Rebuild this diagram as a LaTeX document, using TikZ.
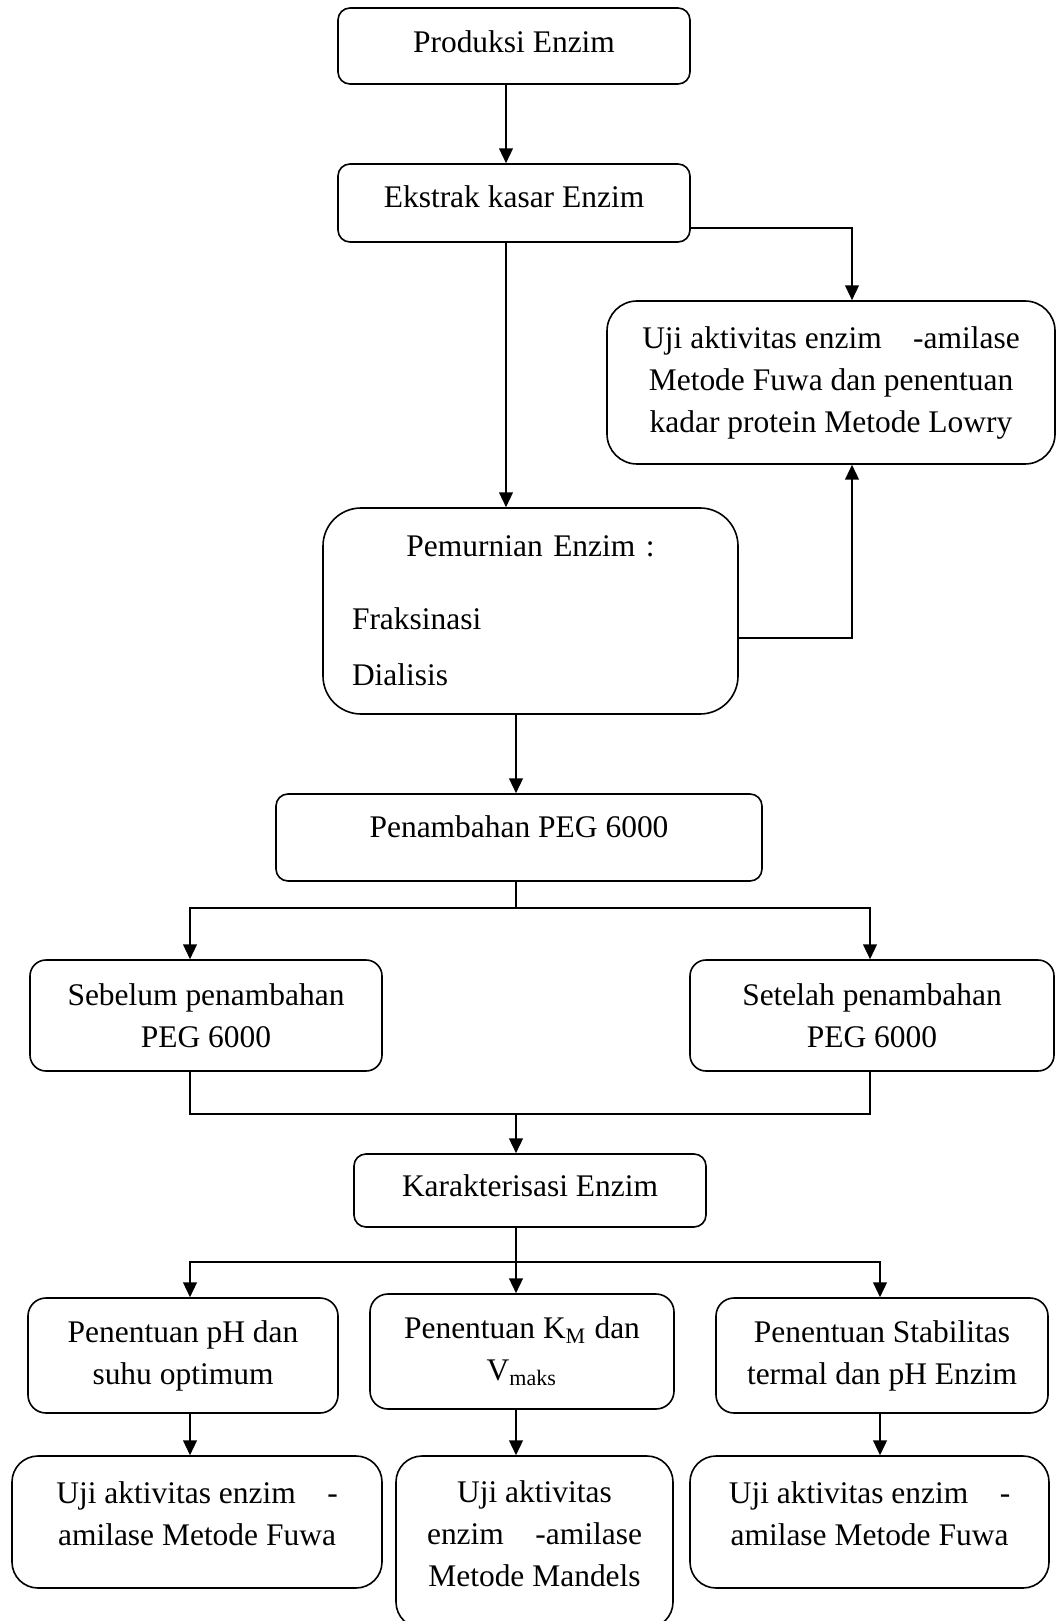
\documentclass[tikz,border=0pt]{standalone}
\usepackage{fontspec}
\setmainfont{Liberation Serif}
\usetikzlibrary{arrows.meta}
\usetikzlibrary{positioning}
\usetikzlibrary{calc}

\begin{document}
\begin{tikzpicture}[x=0.375pt, y=-0.375pt]

\def\Px{0.375pt}
\def\LineW{0.6pt}

% Styles
\tikzstyle{box} =
	[draw, line width=\LineW, inner sep=0pt, align=center,
	 font=\fontsize{11.8}{15.75}\selectfont]

\tikzstyle{stage} =
	[box, rounded corners=12*\Px]

\tikzstyle{test} =
	[box, rounded corners=26*\Px]

\tikzstyle{flow} =
	[line width=\LineW, -{Triangle[width=5.2pt,length=5.6pt]}]

\tikzstyle{joint} =
	[line width=\LineW]

\useasboundingbox (0,0) rectangle (1056,1621);
\clip (0,0) rectangle (1056,1621);

% Modules

\node (Produksi) at (514,46)
	[stage, minimum width=352*\Px, minimum height=76*\Px, text depth=3pt] {Produksi Enzim};
\node (Ekstrak) at (514,203)
	[stage, minimum width=352*\Px, minimum height=78*\Px, text depth=4.5pt] {Ekstrak kasar Enzim};

\node (UjiAtas) at (831,382.5)
	[test, rounded corners=30*\Px, minimum width=448*\Px, minimum height=163*\Px]
	{Uji aktivitas enzim\quad-amilase\\Metode Fuwa dan penentuan\\kadar protein Metode Lowry};

\node (Pemurnian) at (530.5,611)
	[box, rounded corners=38*\Px, minimum width=415*\Px, minimum height=206*\Px,
	 text width=357*\Px, align=left]
	{\makebox[133.9pt]{Pemurnian Enzim :}\\[11.6pt]Fraksinasi\\[5.3pt]Dialisis};

\node (Penambahan) at (519,837.5)
	[stage, minimum width=486*\Px, minimum height=87*\Px, text depth=8pt]
	{Penambahan PEG 6000};

\node (Sebelum) at (206,1015.5)
	[stage, rounded corners=16*\Px, minimum width=352*\Px, minimum height=111*\Px]
	{Sebelum penambahan\\PEG 6000};
\node (Setelah) at (872,1015.5)
	[stage, rounded corners=16*\Px, minimum width=364*\Px, minimum height=111*\Px]
	{Setelah penambahan\\PEG 6000};

\node (Karakterisasi) at (530,1190.5)
	[stage, minimum width=352*\Px, minimum height=73*\Px, text depth=4pt] {Karakterisasi Enzim};

\node (PenentuanPH) at (183,1355.5)
	[stage, rounded corners=18*\Px, minimum width=310*\Px, minimum height=115*\Px]
	{Penentuan pH dan\\suhu optimum};
\node (PenentuanKM) at (522,1351.5)
	[stage, rounded corners=18*\Px, minimum width=304*\Px, minimum height=115*\Px]
	{Penentuan K\textsubscript{M} dan\\V\textsubscript{maks}};
\node (PenentuanStabil) at (882,1355.5)
	[stage, rounded corners=18*\Px, minimum width=332*\Px, minimum height=115*\Px]
	{Penentuan Stabilitas\\termal dan pH Enzim};

\node (UjiKiri) at (197,1522)
	[test, minimum width=370*\Px, minimum height=132*\Px, text depth=6pt]
	{Uji aktivitas enzim\quad-\\amilase Metode Fuwa};
\node (UjiTengah) at (534.5,1542)
	[test, minimum width=277*\Px, minimum height=172*\Px, text depth=6pt]
	{Uji aktivitas\\enzim\quad-amilase\\Metode Mandels};
\node (UjiKanan) at (869.5,1522)
	[test, minimum width=359*\Px, minimum height=132*\Px, text depth=6pt]
	{Uji aktivitas enzim\quad-\\amilase Metode Fuwa};

% Edges

\coordinate (ColMain) at (506,0);
\coordinate (ColSide) at (852,0);
\coordinate (ColMid) at (516,0);
\coordinate (ColLeft) at (190,0);
\coordinate (ColRight) at (870,0);
\coordinate (ColRightLow) at (880,0);
\coordinate (RowEkstrak) at (0,228);
\coordinate (RowPemurnian) at (0,638);
\coordinate (SplitPEG) at (516,908);
\coordinate (JoinPEG) at (516,1114);
\coordinate (SplitChar) at (516,1262);

\draw[flow] (Produksi.south -| ColMain) -- (Ekstrak.north -| ColMain);
\draw[flow] (Ekstrak.south -| ColMain) -- (Pemurnian.north -| ColMain);
\draw[flow] (Ekstrak.east |- RowEkstrak) -| (UjiAtas.north -| ColSide);
\draw[flow] (Pemurnian.east |- RowPemurnian) -| (UjiAtas.south -| ColSide);
\draw[flow] (Pemurnian.south -| ColMid) -- (Penambahan.north -| ColMid);

\draw[joint] (Penambahan.south -| ColMid) -- (SplitPEG);
\draw[flow] (SplitPEG) -| (Sebelum.north -| ColLeft);
\draw[flow] (SplitPEG) -| (Setelah.north -| ColRight);

\draw[joint] (Sebelum.south -| ColLeft) |- (JoinPEG);
\draw[joint] (Setelah.south -| ColRight) |- (JoinPEG);
\draw[flow] (JoinPEG) -- (Karakterisasi.north -| JoinPEG);

\draw[joint] (Karakterisasi.south -| ColMid) -- (SplitChar);
\draw[flow] (SplitChar) -| (PenentuanPH.north -| ColLeft);
\draw[flow] (SplitChar) -- (PenentuanKM.north -| SplitChar);
\draw[flow] (SplitChar) -| (PenentuanStabil.north -| ColRightLow);

\draw[flow] (PenentuanPH.south -| ColLeft) -- (UjiKiri.north -| ColLeft);
\draw[flow] (PenentuanKM.south -| ColMid) -- (UjiTengah.north -| ColMid);
\draw[flow] (PenentuanStabil.south -| ColRightLow) -- (UjiKanan.north -| ColRightLow);

\end{tikzpicture}
\end{document}
